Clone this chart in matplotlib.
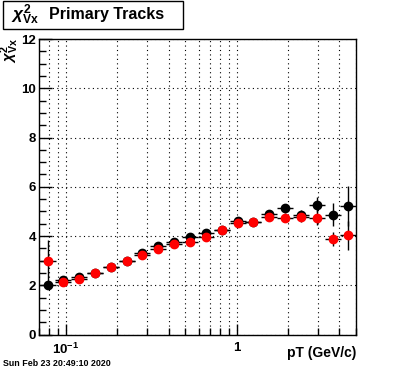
import numpy as np
import matplotlib
matplotlib.use("Agg")
import matplotlib.pyplot as plt
from matplotlib.ticker import FixedLocator, FixedFormatter, MultipleLocator
from matplotlib.patches import Rectangle

# bin centres in pT (GeV/c)
pt = [0.0785, 0.0964, 0.120, 0.149, 0.185, 0.228, 0.2805, 0.348, 0.432, 0.533,
      0.664, 0.824, 1.018, 1.25, 1.551, 1.924, 2.387, 2.968, 3.658, 4.494]
# half width of a bin as a factor (log bins)
bin_factor = 1.114

# black series
chi2_black = [2.00, 2.21, 2.32, 2.51, 2.74, 2.98, 3.32, 3.59, 3.77, 3.97,
              4.11, 4.24, 4.60, 4.58, 4.90, 5.13, 4.86, 5.28, 4.86, 5.22]
err_black = [0.10, 0.05, 0.05, 0.05, 0.05, 0.05, 0.05, 0.06, 0.06, 0.07,
             0.07, 0.08, 0.08, 0.10, 0.12, 0.19, 0.20, 0.31, 0.47, 0.81]

# red series
chi2_red = [2.98, 2.13, 2.25, 2.51, 2.74, 2.98, 3.23, 3.46, 3.67, 3.75,
            3.96, 4.24, 4.52, 4.58, 4.76, 4.72, 4.76, 4.75, 3.89, 4.03]
err_red = [0.88, 0.05, 0.05, 0.05, 0.05, 0.05, 0.05, 0.06, 0.06, 0.07,
           0.07, 0.08, 0.08, 0.10, 0.10, 0.15, 0.20, 0.32, 0.28, 0.60]

title_text = "Primary Tracks"
xlabel_text = "pT (GeV/c)"
date_text = "Sun Feb 23 20:49:10 2020"

plt.rcParams['font.family'] = ['Liberation Sans', 'DejaVu Sans']
plt.rcParams['font.weight'] = 'bold'
plt.rcParams['mathtext.fontset'] = 'custom'
plt.rcParams['mathtext.rm'] = 'Liberation Sans:bold'
plt.rcParams['mathtext.bf'] = 'Liberation Sans:bold'
plt.rcParams['mathtext.it'] = 'Liberation Sans:italic'

W, H = 396, 372
fig = plt.figure(figsize=(W / 100, H / 100), dpi=100)
ax = fig.add_axes([39.3 / W, 1 - 334.6 / H, (356 - 39.3) / W, (334.6 - 39) / H])

pt_arr = np.array(pt)
xerr = [pt_arr - pt_arr / bin_factor, pt_arr * bin_factor - pt_arr]

# ROOT-like markers: filled circles, error bars always black
ax.errorbar(pt, chi2_black, xerr=xerr, yerr=err_black, fmt='o', ms=6,
            color='black', ecolor='black', elinewidth=1, capsize=0, zorder=3)
ax.errorbar(pt, chi2_red, xerr=xerr, yerr=err_red, fmt='o', ms=6,
            color='red', mec='red', ecolor='black', elinewidth=1, capsize=0, zorder=4)

ax.set_xscale('log')
ax.set_xlim(0.07, 5.0)
ax.set_ylim(0, 12)

# ticks
ax.xaxis.set_major_locator(FixedLocator([0.1, 1]))
ax.xaxis.set_major_formatter(FixedFormatter([r'$\mathbf{10^{-1}}$', '1']))
minors = [0.07, 0.08, 0.09] + [k / 10 for k in range(2, 10)] + [2, 3, 4, 5]
ax.xaxis.set_minor_locator(FixedLocator(minors))
ax.xaxis.set_minor_formatter(FixedFormatter([''] * len(minors)))
ax.yaxis.set_major_locator(MultipleLocator(2))
ax.yaxis.set_minor_locator(MultipleLocator(0.5))

ax.tick_params(which='both', direction='in', top=False, right=False, width=1,
               labelsize=9.5, colors='black')
ax.tick_params(axis='y', which='major', length=9, pad=2.5)
ax.tick_params(axis='y', which='minor', length=5)
ax.tick_params(axis='x', which='major', length=8, pad=5)
ax.tick_params(axis='x', which='minor', length=5)
for lab in ax.get_xticklabels() + ax.get_yticklabels():
    lab.set_fontweight('bold')

ax.grid(True, which='major', axis='both', color='black', linestyle=(0, (1, 3)), linewidth=0.8)
ax.grid(True, which='minor', axis='x', color='black', linestyle=(0, (1, 3)), linewidth=0.8)
ax.set_axisbelow(True)
for s in ax.spines.values():
    s.set_linewidth(1)

# axis titles
fig.text(356 / W, 1 - 353 / H, xlabel_text, ha='right', va='center',
         fontsize=10, fontweight='bold')
fig.text(10 / W, 1 - 38 / H, r'$\chi^{2}_{\mathbf{Vx}}$', rotation=90,
         ha='center', va='top', fontsize=11)

# title box
fig.patches.append(Rectangle((3 / W, 1 - 29 / H), 180 / W, 28 / H,
                             transform=fig.transFigure, facecolor='white',
                             edgecolor='black', linewidth=1))
fig.text(11 / W, 1 - 15 / H, r'$\chi^{2}_{\mathbf{Vx}}$', ha='left', va='center',
         fontsize=12.5)
fig.text(49 / W, 1 - 14 / H, title_text, ha='left', va='center',
         fontsize=11.5, fontweight='bold')

# date stamp
fig.text(3 / W, 1 - 364 / H, date_text, ha='left', va='center',
         fontsize=6.4, fontweight='bold')

fig.savefig('out.png', dpi=100)
